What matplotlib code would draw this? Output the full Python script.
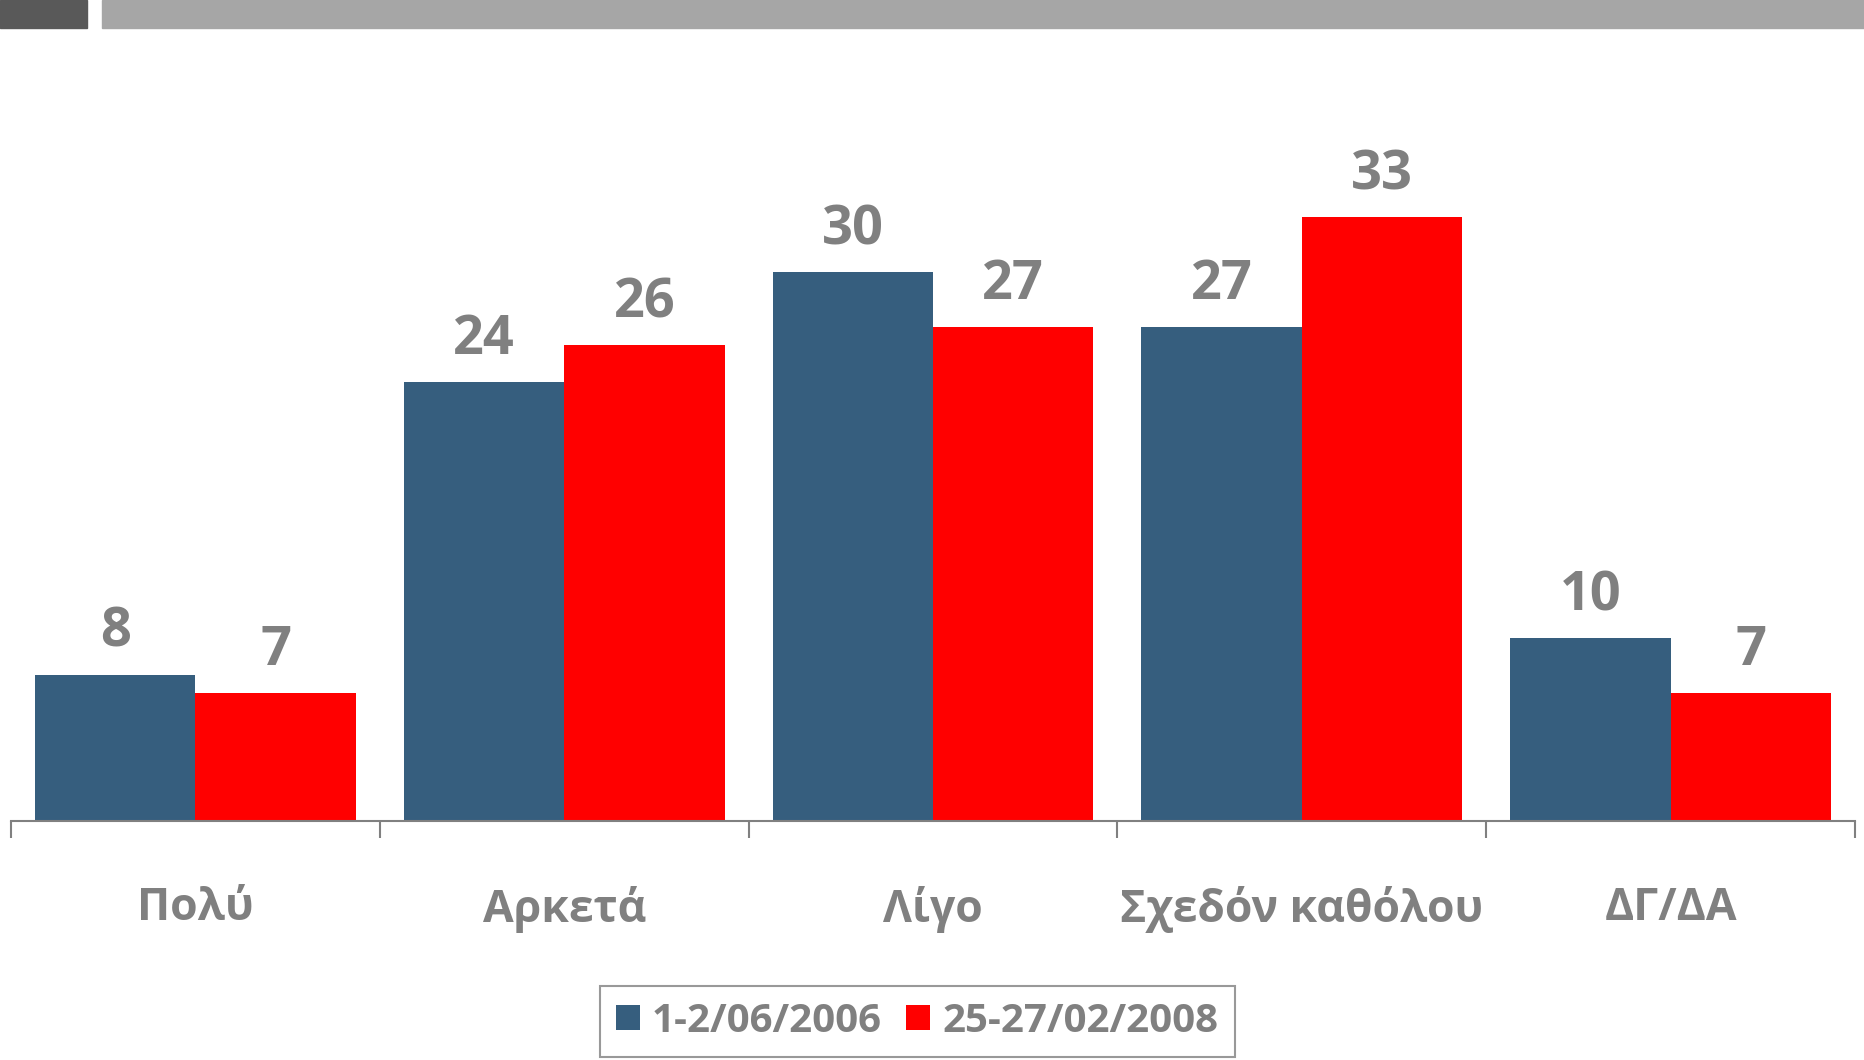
import numpy as np
import matplotlib.pyplot as plt
from matplotlib.patches import Rectangle

categories = ['Πολύ', 'Αρκετά', 'Λίγο', 'Σχεδόν καθόλου', 'ΔΓ/ΔΑ']
series_names = ['1-2/06/2006', '25-27/02/2008']
values_2006 = [8, 24, 30, 27, 10]
values_2008 = [7, 26, 27, 33, 7]

BLUE = '#365e7e'
RED = '#ff0000'
GRAY = '#808080'

plt.rcParams['font.family'] = ['Open Sans', 'DejaVu Sans']
plt.rcParams['font.weight'] = 'bold'

fig = plt.figure(figsize=(18.64, 10.6), dpi=100)
ax = fig.add_axes([0.0059, 0.2255, 0.9893, 0.6557])

# top decoration strips
fig.patches.append(Rectangle((0, 1 - 28/1060), 87/1864, 28/1060,
                             transform=fig.transFigure, color='#595959', zorder=0))
fig.patches.append(Rectangle((102/1864, 1 - 28/1060), 1 - 102/1864, 28/1060,
                             transform=fig.transFigure, color='#a6a6a6', zorder=0))

x = np.arange(len(categories))
w = 0.435
b1 = ax.bar(x - w/2, values_2006, w, color=BLUE, label=series_names[0])
b2 = ax.bar(x + w/2, values_2008, w, color=RED, label=series_names[1])

for bars in (b1, b2):
    for r in bars:
        ax.annotate(str(int(r.get_height())),
                    (r.get_x() + r.get_width()/2, r.get_height()),
                    xytext=(0, 20), textcoords='offset points',
                    ha='center', va='baseline', fontsize=39,
                    fontweight='bold', color=GRAY)

ax.set_xlim(-0.5, len(categories) - 0.5)
ax.set_ylim(0, 38)
ax.set_yticks([])
for s in ('left', 'right', 'top'):
    ax.spines[s].set_visible(False)
ax.spines['bottom'].set_color(GRAY)
ax.spines['bottom'].set_linewidth(1.5)

ax.set_xticks(x)
ax.set_xticklabels(categories, fontsize=32, fontweight='bold', color=GRAY)
ax.tick_params(axis='x', which='major', length=0, pad=47)
ax.set_xticks(np.arange(-0.5, len(categories)), minor=True)
ax.tick_params(axis='x', which='minor', length=12, width=1.5, color=GRAY,
               direction='out')

leg = fig.legend(loc='lower center', bbox_to_anchor=(0.492, 0.003), ncol=2,
                 fontsize=29, frameon=True, fancybox=False, handlelength=0.6,
                 handleheight=0.6, handletextpad=0.3, columnspacing=0.6,
                 borderpad=0.4, borderaxespad=0)
leg.get_frame().set_edgecolor(GRAY)
leg.get_frame().set_linewidth(1.5)
for t in leg.get_texts():
    t.set_color(GRAY)
    t.set_fontweight('bold')

fig.savefig('out.png', dpi=100)
